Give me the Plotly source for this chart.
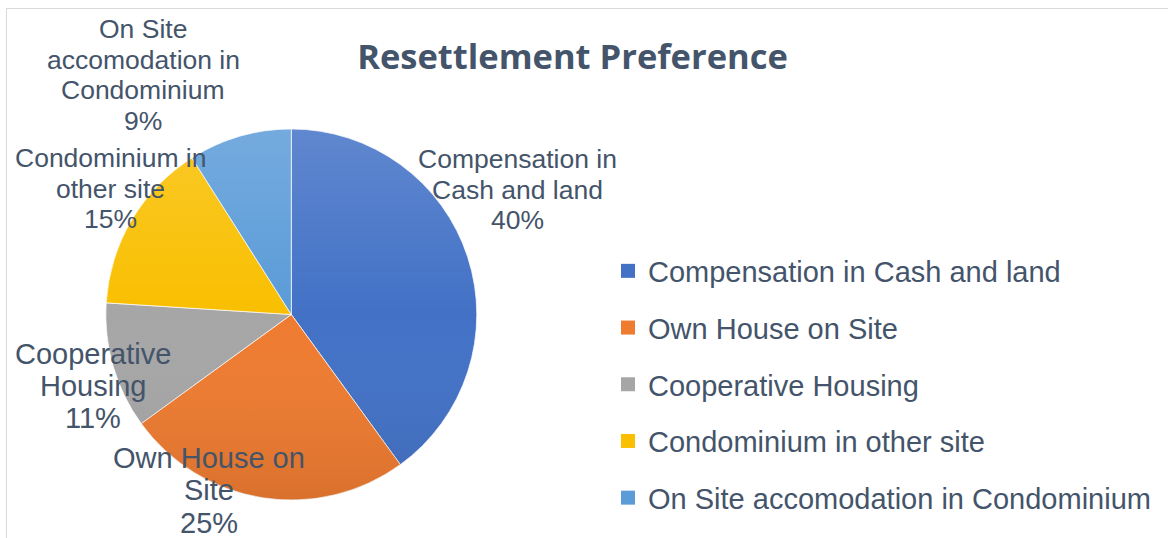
import base64
import plotly.graph_objects as go

W, H = 1168, 538

# ---- data -------------------------------------------------------------
categories = [
    "Compensation in Cash and land",
    "Own House on Site",
    "Cooperative Housing",
    "Condominium in other site",
    "On Site accomodation in Condominium",
]
shares = [40, 25, 11, 15, 9]
label_lines = [
    ["Compensation in", "Cash and land"],
    ["Own House on", "Site"],
    ["Cooperative", "Housing"],
    ["Condominium in", "other site"],
    ["On Site", "accomodation in", "Condominium"],
]
slice_colors = ["#4271C6", "#EE7B30", "#A6A6A6", "#F9BF00", "#5A9BD8"]

# ---- layout geometry (pixels) -----------------------------------------
CX, CY, R = 291.3, 314.5, 185.5
# centre x, first baseline, font size, line step for each data label
label_pos = [
    (517, 168, 26.5, 30.8),
    (209, 468, 29.0, 32.5),
    (93, 364, 29.0, 32.0),
    (110, 167, 26.5, 30.8),
    (143, 38, 26.5, 30.8),
]
TEXT_COLOR = "#44546A"


def px_x(x):
    return x / W


def px_y(y):
    return 1 - y / H


fig = go.Figure()

fig.add_trace(go.Pie(
    labels=categories,
    values=shares,
    sort=False,
    direction="clockwise",
    rotation=0,
    marker=dict(colors=slice_colors, line=dict(color="rgba(255,255,255,0.7)", width=1)),
    textinfo="none",
    hoverinfo="label+percent",
    showlegend=False,
    domain=dict(x=[px_x(CX - R), px_x(CX + R)], y=[px_y(CY + R), px_y(CY - R)]),
))

# legend entries, one group each so the group gap spaces them out
for name, col in zip(categories, slice_colors):
    fig.add_trace(go.Scatter(
        x=[None], y=[None], mode="markers", name=name, legendgroup=name,
        marker=dict(symbol="square", size=14, color=col),
        hoverinfo="skip",
    ))

# data labels: category lines followed by the percentage
annotations = []
for lines, val, (lx, ly, fs, step) in zip(label_lines, shares, label_pos):
    for i, txt in enumerate(lines + [f"{val}%"]):
        base = ly + i * step
        annotations.append(dict(
            text=txt, x=px_x(lx), y=px_y(base - 0.3465 * fs),
            xref="paper", yref="paper", xanchor="center", yanchor="middle",
            showarrow=False, borderpad=0,
            font=dict(family="Liberation Sans, Arial, sans-serif", size=fs, color=TEXT_COLOR),
        ))

# soft vertical shading over the pie
svg = (
    "<svg xmlns='http://www.w3.org/2000/svg' width='200' height='200' viewBox='0 0 200 200'>"
    "<defs><linearGradient id='g' x1='0' y1='0' x2='0' y2='1'>"
    "<stop offset='0' stop-color='#ffffff' stop-opacity='0.16'/>"
    "<stop offset='0.5' stop-color='#ffffff' stop-opacity='0'/>"
    "<stop offset='1' stop-color='#000000' stop-opacity='0.09'/>"
    "</linearGradient></defs>"
    "<circle cx='100' cy='100' r='100' fill='url(#g)'/></svg>"
)
shade_src = "data:image/svg+xml;base64," + base64.b64encode(svg.encode()).decode()

fig.update_layout(
    width=W, height=H,
    margin=dict(l=0, r=0, t=0, b=0),
    paper_bgcolor="white", plot_bgcolor="white",
    xaxis=dict(visible=False), yaxis=dict(visible=False),
    title=dict(
        text="<b>Resettlement Preference</b>",
        x=px_x(572.5), xanchor="center", xref="paper",
        y=1 - 57 / H, yanchor="middle", yref="container",
        font=dict(family="'Open Sans', Lato, sans-serif", size=34.5, color=TEXT_COLOR),
    ),
    legend=dict(
        x=px_x(608), y=px_y(245.5), xanchor="left", yanchor="top",
        traceorder="grouped", tracegroupgap=16,
        font=dict(family="Liberation Sans, Arial, sans-serif", size=29, color=TEXT_COLOR),
        bgcolor="rgba(0,0,0,0)",
    ),
    annotations=annotations,
    images=[dict(
        source=shade_src, xref="paper", yref="paper",
        x=px_x(CX - R), y=px_y(CY - R), sizex=2 * R / W, sizey=2 * R / H,
        xanchor="left", yanchor="top", sizing="stretch", layer="above",
    )],
    shapes=[
        dict(type="line", xref="paper", yref="paper", x0=px_x(6), x1=1, y0=px_y(8.5), y1=px_y(8.5),
             line=dict(color="#D9D9D9", width=1)),
        dict(type="line", xref="paper", yref="paper", x0=px_x(6.5), x1=px_x(6.5), y0=px_y(8), y1=0,
             line=dict(color="#D9D9D9", width=1)),
    ],
)

fig.write_html("out.html")
